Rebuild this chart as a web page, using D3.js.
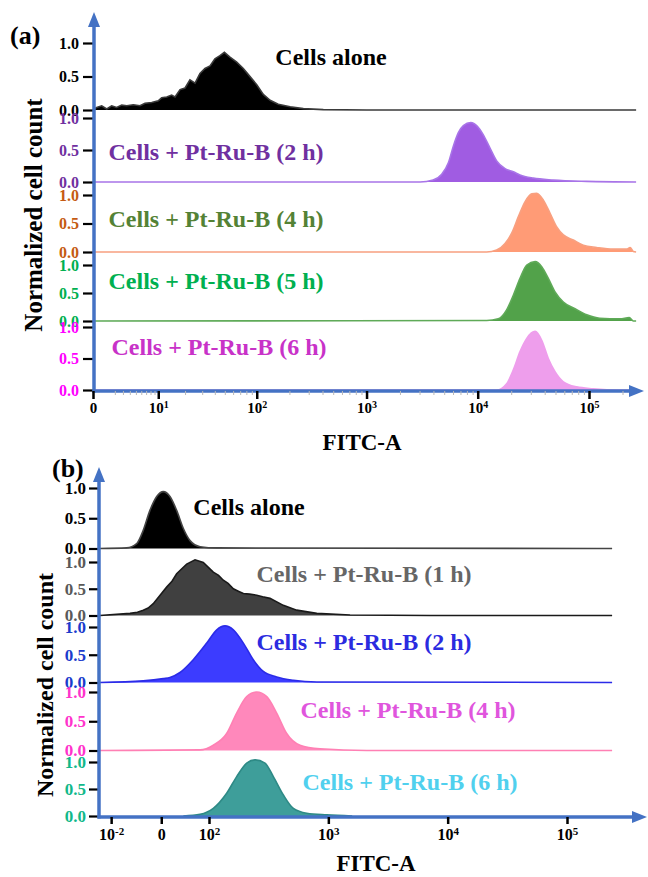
<!DOCTYPE html>
<html>
<head>
<meta charset="utf-8">
<script src="https://cdn.jsdelivr.net/npm/d3@7"></script>
<style>
  html, body { margin: 0; padding: 0; background: #fff; }
  svg text { font-family: "Liberation Serif", "Times New Roman", serif; font-weight: bold; }
</style>
</head>
<body>
<svg id="chart" width="648" height="877"></svg>
<script>
// ================= DATA =================
// Panel (a): x = FITC-A intensity, y = normalized cell count
const aLabels = ["Cells alone", "Cells + Pt-Ru-B (2 h)", "Cells + Pt-Ru-B (4 h)", "Cells + Pt-Ru-B (5 h)", "Cells + Pt-Ru-B (6 h)"];

const aAloneFitc  = [0, 0.28, 0.69, 1.15, 1.65, 2.21, 2.84, 3.53, 4.56, 5.75, 6.77, 8.28, 10.0, 11.0, 12.6, 14.3, 15.6, 17.7, 20.0, 22.5, 25.4, 28.5, 32.0, 35.9, 40.1, 44.9, 49.5, 56.0, 64.9, 74.9, 86.6, 100, 115, 133, 158, 203, 268, 407, 1000, 265000];
const aAloneCount = [0, 0.039, 0.063, 0.015, 0.063, 0.039, 0.073, 0.063, 0.078, 0.063, 0.102, 0.112, 0.136, 0.184, 0.194, 0.222, 0.194, 0.305, 0.329, 0.450, 0.401, 0.546, 0.619, 0.657, 0.764, 0.812, 0.860, 0.788, 0.715, 0.619, 0.498, 0.377, 0.232, 0.145, 0.087, 0.049, 0.020, 0.005, 0, 0];

const a2hFitc  = [0, 3030, 3970, 4750, 5450, 6040, 6700, 7430, 8660, 9930, 11200, 12900, 14800, 17600, 20900, 24000, 31600, 47800, 95400, 265000];
const a2hCount = [0, 0, 0.03, 0.12, 0.30, 0.56, 0.77, 0.88, 0.93, 0.87, 0.74, 0.53, 0.33, 0.21, 0.16, 0.11, 0.06, 0.03, 0.01, 0];

const a4hFitc  = [0, 12050, 14800, 17600, 20200, 23200, 26600, 30600, 33900, 38900, 44700, 51300, 58800, 72300, 88900, 117000, 165000, 218000, 234000, 250000, 265000];
const a4hCount = [0, 0, 0.035, 0.15, 0.33, 0.62, 0.88, 1.02, 1.03, 0.91, 0.68, 0.44, 0.30, 0.21, 0.12, 0.08, 0.05, 0.05, 0.08, 0.01, 0];

const a5hFitc  = [0, 12050, 15300, 18200, 20900, 24000, 27600, 32800, 37600, 43100, 49500, 58800, 74900, 95400, 125000, 190000, 230000, 250000, 265000];
const a5hCount = [0, 0.01, 0.04, 0.20, 0.46, 0.76, 1.00, 1.06, 0.97, 0.76, 0.52, 0.34, 0.22, 0.11, 0.05, 0.04, 0.06, 0.0, 0];

const a6hFitc  = [0, 14800, 18200, 20900, 24000, 27600, 32800, 37600, 43100, 49500, 58800, 77500, 109000, 190000, 265000];
const a6hCount = [0, 0, 0.10, 0.32, 0.61, 0.82, 0.93, 0.79, 0.50, 0.29, 0.13, 0.05, 0.02, 0, 0];

const aTickValues = [0, 10, 100, 1000, 10000, 100000];
const aTickBase   = ["0", "10", "10", "10", "10", "10"];
const aTickExp    = ["", "1", "2", "3", "4", "5"];
const yTickValues = [0, 0.5, 1.0];

// Panel (b): x = position on the FITC-A axis in decades, y = normalized cell count
const bLabels = ["Cells alone", "Cells + Pt-Ru-B (1 h)", "Cells + Pt-Ru-B (2 h)", "Cells + Pt-Ru-B (4 h)", "Cells + Pt-Ru-B (6 h)"];

const bAloneX = [1.086, 1.310, 1.394, 1.449, 1.505, 1.562, 1.617, 1.673, 1.729, 1.785, 1.841, 1.925, 2.065, 5.378];
const bAloneY = [0, 0.01, 0.08, 0.30, 0.63, 0.86, 0.94, 0.86, 0.63, 0.33, 0.13, 0.03, 0.01, 0];

const b1hX = [1.086, 1.338, 1.40, 1.449, 1.49, 1.533, 1.59, 1.645, 1.69, 1.729, 1.77, 1.813, 1.883, 1.952, 2.036, 2.08, 2.120, 2.16, 2.204, 2.25, 2.288, 2.34, 2.400, 2.45, 2.511, 2.623, 2.735, 2.903, 3.182, 3.852, 5.378];
const b1hY = [0, 0.04, 0.06, 0.10, 0.14, 0.22, 0.38, 0.53, 0.64, 0.78, 0.87, 0.96, 1.04, 0.99, 0.81, 0.75, 0.66, 0.60, 0.50, 0.45, 0.41, 0.40, 0.38, 0.35, 0.32, 0.19, 0.10, 0.04, 0.01, 0, 0];

const b2hX = [1.086, 1.449, 1.617, 1.673, 1.757, 1.868, 1.981, 2.065, 2.134, 2.204, 2.288, 2.371, 2.455, 2.567, 2.707, 2.903, 5.378];
const b2hY = [0, 0.03, 0.07, 0.09, 0.18, 0.41, 0.71, 0.95, 1.02, 0.95, 0.71, 0.41, 0.20, 0.10, 0.04, 0.01, 0];

const b4hX = [1.086, 1.925, 2.036, 2.148, 2.232, 2.316, 2.400, 2.484, 2.567, 2.651, 2.763, 2.930, 3.322, 5.378];
const b4hY = [0, 0.01, 0.09, 0.29, 0.64, 0.92, 1.00, 0.92, 0.64, 0.29, 0.09, 0.03, 0, 0];

const b6hX = [1.785, 1.925, 2.036, 2.148, 2.232, 2.316, 2.386, 2.469, 2.539, 2.623, 2.707, 2.819, 2.987, 3.2];
const b6hY = [0, 0.03, 0.14, 0.42, 0.73, 0.98, 1.04, 0.98, 0.73, 0.39, 0.14, 0.05, 0.02, 0];

const bTickValues = [1.18, 1.6, 2, 3, 4, 5];
const bTickBase   = ["10", "0", "10", "10", "10", "10"];
const bTickExp    = ["-2", "", "2", "3", "4", "5"];

// ================= STYLE / LAYOUT =================
const AXIS_BLUE = "#4472C4";
const svg = d3.select("#chart");

const aSeries = [
  {x: aAloneFitc, y: aAloneCount, fill: "#000000", line: "#3a3a3a", tick: "#000000", text: "#000000", curve: d3.curveLinear},
  {x: a2hFitc, y: a2hCount, fill: "#A05CE2", line: "#A874E8", tick: "#7030A0", text: "#7030A0", curve: d3.curveMonotoneX},
  {x: a4hFitc, y: a4hCount, fill: "#FF9B76", line: "#F8A080", tick: "#C55A11", text: "#548235", curve: d3.curveMonotoneX},
  {x: a5hFitc, y: a5hCount, fill: "#52A24A", line: "#5FAA58", tick: "#00B050", text: "#00B050", curve: d3.curveMonotoneX},
  {x: a6hFitc, y: a6hCount, fill: "#EE9EEC", line: "#EE9EEC", tick: "#FF00FF", text: "#C832C8", curve: d3.curveMonotoneX}
];
const aRows = [
  {zero: 110, one: 43, lx: 331, ly: 65},
  {zero: 182, one: 118, lx: 216, ly: 160},
  {zero: 252, one: 195, lx: 216, ly: 227},
  {zero: 321, one: 265, lx: 216, ly: 289},
  {zero: 390, one: 327, lx: 219, ly: 355}
];

const bSeries = [
  {x: bAloneX, y: bAloneY, fill: "#000000", line: "#444444", tick: "#000000", text: "#000000", curve: d3.curveMonotoneX},
  {x: b1hX, y: b1hY, fill: "#404040", line: "#1a1a1a", tick: "#595959", text: "#666666", curve: d3.curveLinear},
  {x: b2hX, y: b2hY, fill: "#3C3CFF", line: "#2B2BE8", tick: "#1A3BCC", text: "#2B2BE0", curve: d3.curveMonotoneX},
  {x: b4hX, y: b4hY, fill: "#FF88BB", line: "#FF80B4", tick: "#FF33CC", text: "#E055DD", curve: d3.curveMonotoneX},
  {x: b6hX, y: b6hY, fill: "#3E9E9A", line: "#2E8A86", tick: "#11B88A", text: "#50D0EE", curve: d3.curveMonotoneX}
];
const bRows = [
  {zero: 548.5, one: 488, lx: 249, ly: 515},
  {zero: 615.5, one: 562, lx: 364, ly: 582},
  {zero: 682.5, one: 627, lx: 364, ly: 650},
  {zero: 750.5, one: 692, lx: 408, ly: 718},
  {zero: 816, one: 762, lx: 410, ly: 790}
];

// ================= SCALES =================
const xa = d3.scaleSymlog().constant(3.5).domain([0, 1e5]).range([93, 589]);
const xb = d3.scaleLinear().domain([2, 5]).range([209, 567]);

function drawPanel(series, rows, x, opts) {
  const g = svg.append("g");
  series.forEach((s, i) => {
    const r = rows[i];
    const y = d3.scaleLinear().domain([0, 1]).range([r.zero, r.one]);
    const pts = s.x.map((v, k) => [v, s.y[k]]);
    g.append("path").datum(pts)
      .attr("fill", s.fill)
      .attr("d", d3.area().x(d => x(d[0])).y0(y(0)).y1(d => y(d[1])).curve(s.curve));
    g.append("path").datum(pts)
      .attr("fill", "none").attr("stroke", s.line).attr("stroke-width", 1.6)
      .attr("d", d3.line().x(d => x(d[0])).y(d => y(d[1])).curve(s.curve));
    // y ticks
    const ax = g.append("g").attr("transform", `translate(${opts.axisX},0)`)
      .call(d3.axisLeft(y).tickValues(yTickValues).tickFormat(d3.format(".1f"))
        .tickSize(opts.ytickSize).tickPadding(opts.ytickPad));
    ax.select(".domain").remove();
    ax.selectAll("line").attr("stroke", "#000").attr("stroke-width", 2.2);
    ax.selectAll("text").attr("fill", s.tick).attr("font-size", opts.ytickFont)
      .style("font-family", "'Liberation Serif', serif").style("font-weight", "bold");
    // series label
    g.append("text").attr("x", r.lx).attr("y", r.ly).attr("text-anchor", "middle")
      .attr("font-size", 24).attr("fill", s.text).text(opts.labels[i]);
  });
  return g;
}

function arrowAxes(ox, oy, topY, rightX) {
  const g = svg.append("g");
  g.append("line").attr("x1", ox).attr("y1", oy + 1.5).attr("x2", ox).attr("y2", topY + 12)
    .attr("stroke", AXIS_BLUE).attr("stroke-width", 3.5);
  g.append("path").attr("d", `M${ox},${topY} L${ox - 6},${topY + 15} L${ox + 6},${topY + 15} Z`).attr("fill", AXIS_BLUE);
  g.append("line").attr("x1", ox - 1.5).attr("y1", oy).attr("x2", rightX - 12).attr("y2", oy)
    .attr("stroke", AXIS_BLUE).attr("stroke-width", 3.5);
  g.append("path").attr("d", `M${rightX},${oy} L${rightX - 15},${oy - 6} L${rightX - 15},${oy + 6} Z`).attr("fill", AXIS_BLUE);
}

function xTicks(x, axisY, values, base, exp, size, pad, font, supFont, minor) {
  if (minor) {
    const mg = svg.append("g").attr("transform", `translate(0,${axisY})`)
      .call(d3.axisBottom(x).tickValues(minor).tickSize(4).tickFormat(""));
    mg.select(".domain").remove();
    mg.selectAll("line").attr("stroke", "#b8b8b8").attr("stroke-width", 1);
  }
  const g = svg.append("g").attr("transform", `translate(0,${axisY})`)
    .call(d3.axisBottom(x).tickValues(values).tickSize(size).tickPadding(pad).tickFormat(""));
  g.select(".domain").remove();
  g.selectAll("line").attr("stroke", "#000").attr("stroke-width", 2.5);
  g.selectAll(".tick text").each(function(d, i) {
    const t = d3.select(this).attr("font-size", font).attr("fill", "#000")
      .style("font-family", "'Liberation Serif', serif").style("font-weight", "bold");
    t.text(null);
    t.append("tspan").text(base[i]);
    if (exp[i]) t.append("tspan").attr("font-size", supFont).attr("dy", "-0.45em").text(exp[i]);
  });
}

// ================= PANEL (a) =================
drawPanel(aSeries, aRows, xa, {axisX: 94, ytickSize: 11, ytickPad: 4, ytickFont: 16, labels: aLabels});
arrowAxes(94, 391, 12, 644);
const aMinor = [];
[1, 10, 100, 1000, 10000, 100000].forEach(b => { for (let k = 2; k <= 9; k++) if (b * k <= 2.6e5) aMinor.push(b * k); });
xTicks(xa, 391, aTickValues, aTickBase, aTickExp, 8, 3, 15, 10, aMinor.filter(v => v > 1));

svg.append("text").attr("x", 10).attr("y", 44).attr("font-size", 26).attr("fill", "#000").text("(a)");
svg.append("text").attr("transform", "translate(42,215) rotate(-90)").attr("text-anchor", "middle")
  .attr("font-size", 25).attr("fill", "#000").text("Normalized cell count");
svg.append("text").attr("x", 362).attr("y", 450).attr("text-anchor", "middle")
  .attr("font-size", 23).attr("fill", "#000").text("FITC-A");

// ================= PANEL (b) =================
drawPanel(bSeries, bRows, xb, {axisX: 99, ytickSize: 10, ytickPad: 3, ytickFont: 17, labels: bLabels});
arrowAxes(99, 817, 467, 647);
xTicks(xb, 817, bTickValues, bTickBase, bTickExp, 7, 5, 16, 11, null);

svg.append("text").attr("x", 52).attr("y", 477).attr("font-size", 26).attr("fill", "#000").text("(b)");
svg.append("text").attr("transform", "translate(53,685) rotate(-90)").attr("text-anchor", "middle")
  .attr("font-size", 24).attr("fill", "#000").text("Normalized cell count");
svg.append("text").attr("x", 376).attr("y", 871).attr("text-anchor", "middle")
  .attr("font-size", 23).attr("fill", "#000").text("FITC-A");
</script>
</body>
</html>
